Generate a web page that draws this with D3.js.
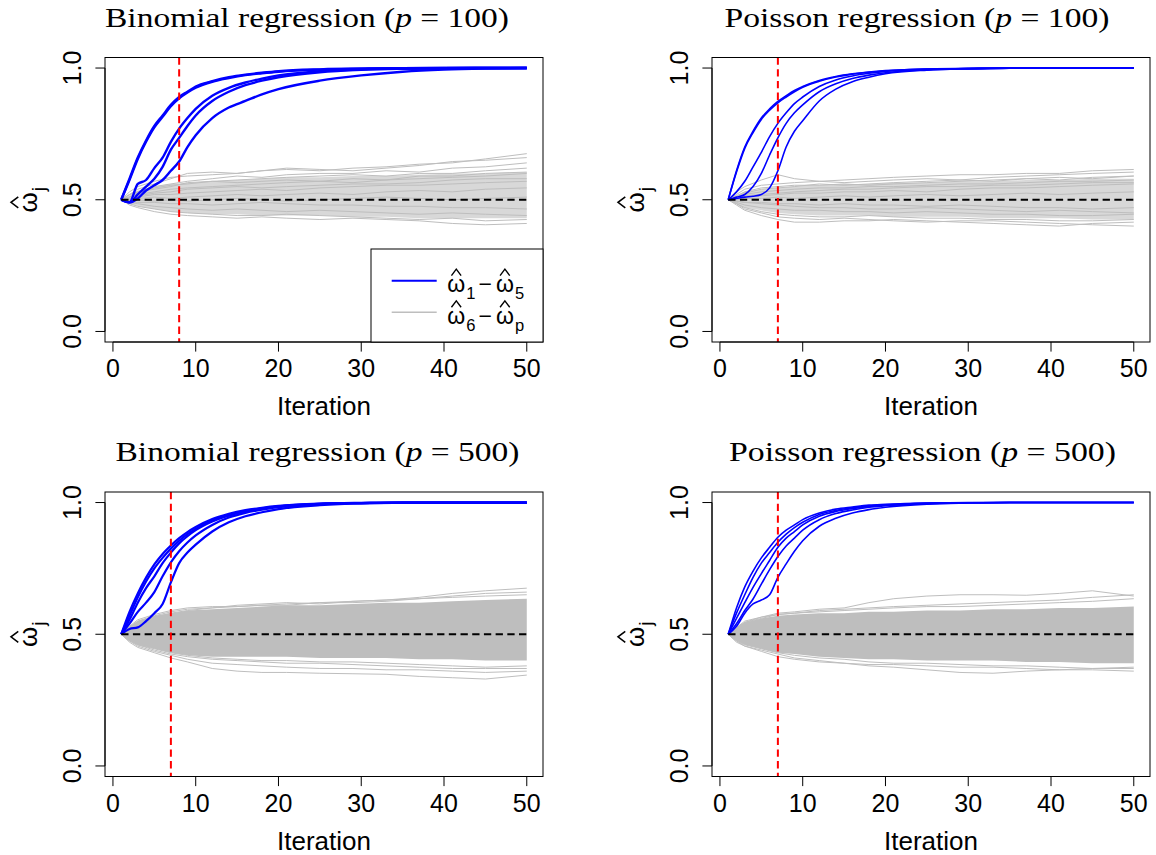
<!DOCTYPE html>
<html>
<head>
<meta charset="utf-8">
<script src="https://cdn.jsdelivr.net/npm/d3@7"></script>
<style>
  body { margin: 0; background: #fff; }
  text { font-family: "Liberation Sans", Arial, sans-serif; fill: #000; }
</style>
</head>
<body>
<script>
// ---- data ----
const titles = ["Binomial regression", "Poisson regression", "Binomial regression", "Poisson regression"];
const pValues = [100, 100, 500, 500];
const cutoffs = [8, 7, 7, 7];
const xTicks = [0, 10, 20, 30, 40, 50];
const yTicks = [0, 0.5, 1];

// iterations at which the curves were read
const blueIters = [1,2,3,4,5,6,7,8,9,10,12,14,16,18,20,25,30,35,40,45,50];
const grayIters = [1,2,3,5,7,9,12,15,18,21,25,29,33,37,41,45,50];

// Binomial, p = 100
const binom100Blue = [
  [.5,.58,.66,.725,.78,.82,.86,.89,.91,.93,.95,.965,.975,.982,.988,.995,.998,.999,1,1,1],
  [.5,.575,.655,.72,.775,.815,.855,.885,.907,.925,.948,.962,.973,.98,.986,.994,.997,.999,1,1,1],
  [.5,.49,.56,.575,.62,.66,.72,.77,.81,.845,.895,.925,.945,.96,.972,.988,.995,.998,.999,1,1],
  [.5,.49,.52,.55,.58,.625,.69,.735,.78,.82,.875,.91,.935,.952,.965,.984,.993,.997,.999,1,1],
  [.5,.49,.505,.535,.555,.575,.61,.645,.70,.745,.81,.85,.875,.90,.92,.952,.972,.986,.994,.998,1]
];
const binom100BandUpper = [.5,.52,.535,.55,.56,.565,.57,.575,.58,.585,.585,.59,.59,.595,.60,.60,.605];
const binom100BandLower = [.5,.485,.475,.465,.455,.45,.445,.445,.44,.44,.44,.435,.435,.43,.43,.43,.43];
const binom100Gray = [
  [.5,.53,.55,.57,.585,.59,.595,.60,.61,.615,.61,.62,.625,.635,.64,.655,.675],
  [.5,.52,.54,.56,.58,.60,.605,.60,.61,.62,.615,.61,.62,.63,.645,.65,.66],
  [.5,.52,.53,.55,.56,.57,.58,.59,.585,.595,.60,.60,.61,.605,.62,.625,.64],
  [.5,.51,.53,.54,.55,.565,.57,.575,.58,.585,.59,.595,.59,.60,.60,.61,.62],
  [.5,.51,.52,.53,.54,.545,.55,.555,.56,.565,.57,.565,.575,.58,.585,.59,.60],
  [.5,.505,.51,.52,.52,.525,.53,.535,.54,.535,.545,.55,.555,.555,.56,.565,.57],
  [.5,.5,.505,.51,.505,.51,.515,.52,.515,.52,.525,.52,.53,.535,.53,.54,.545],
  [.5,.495,.49,.49,.485,.485,.48,.485,.49,.485,.48,.48,.475,.475,.47,.47,.465],
  [.5,.49,.485,.475,.47,.465,.46,.465,.46,.455,.46,.455,.45,.445,.45,.445,.44],
  [.5,.485,.475,.465,.455,.45,.445,.44,.44,.445,.44,.435,.43,.425,.43,.42,.425],
  [.5,.48,.47,.455,.445,.44,.435,.43,.435,.43,.425,.43,.425,.42,.41,.405,.41],
  [.5,.51,.525,.545,.555,.56,.57,.565,.57,.575,.57,.58,.575,.59,.59,.60,.605],
  [.5,.5,.515,.525,.53,.54,.545,.55,.545,.55,.555,.56,.56,.565,.575,.58,.58],
  [.5,.495,.5,.495,.5,.495,.5,.505,.5,.495,.5,.505,.51,.505,.5,.505,.51]
];

// Poisson, p = 100
const pois100Blue = [
  [.5,.61,.70,.76,.81,.845,.873,.895,.915,.93,.953,.968,.978,.985,.99,.996,.999,1,1,1,1],
  [.5,.605,.695,.755,.805,.84,.868,.89,.91,.927,.95,.966,.977,.984,.989,.996,.998,1,1,1,1],
  [.5,.53,.57,.625,.68,.74,.79,.83,.865,.89,.93,.955,.97,.98,.987,.995,.998,1,1,1,1],
  [.5,.51,.52,.55,.60,.67,.735,.79,.83,.86,.91,.94,.96,.973,.982,.993,.997,.999,1,1,1],
  [.5,.505,.51,.513,.52,.545,.61,.70,.76,.80,.875,.92,.948,.965,.978,.992,.997,.999,1,1,1]
];
const pois100BandUpper = [.5,.515,.53,.54,.545,.55,.555,.56,.56,.565,.565,.57,.57,.575,.575,.58,.58];
const pois100BandLower = [.5,.485,.47,.46,.45,.445,.44,.44,.44,.435,.435,.435,.43,.43,.43,.425,.425];
const pois100Gray = [
  [.5,.53,.55,.575,.595,.58,.57,.575,.58,.585,.59,.595,.595,.60,.60,.61,.615],
  [.5,.52,.54,.555,.56,.565,.57,.565,.57,.575,.58,.575,.585,.59,.595,.60,.605],
  [.5,.515,.53,.545,.55,.555,.555,.56,.555,.56,.565,.57,.575,.58,.575,.585,.59],
  [.5,.51,.52,.53,.535,.54,.545,.545,.55,.55,.555,.56,.56,.565,.57,.57,.575],
  [.5,.505,.51,.515,.52,.525,.525,.53,.53,.535,.53,.54,.545,.545,.55,.555,.56],
  [.5,.5,.505,.505,.51,.505,.51,.515,.51,.515,.52,.515,.52,.525,.52,.525,.53],
  [.5,.495,.49,.49,.485,.485,.48,.485,.48,.48,.475,.48,.475,.47,.47,.465,.47],
  [.5,.49,.48,.47,.465,.46,.46,.455,.455,.45,.455,.45,.445,.445,.44,.44,.445],
  [.5,.485,.47,.455,.445,.44,.435,.435,.44,.435,.43,.43,.425,.425,.42,.42,.425],
  [.5,.48,.46,.44,.425,.415,.415,.42,.42,.425,.42,.415,.41,.405,.40,.41,.415],
  [.5,.485,.465,.45,.435,.43,.425,.43,.425,.42,.415,.42,.42,.415,.41,.405,.40],
  [.5,.51,.525,.54,.545,.55,.56,.555,.56,.565,.57,.575,.57,.58,.585,.58,.59],
  [.5,.495,.49,.485,.48,.475,.47,.47,.465,.465,.47,.465,.46,.455,.46,.455,.45],
  [.5,.505,.515,.52,.525,.53,.535,.54,.54,.545,.55,.55,.555,.555,.56,.565,.565]
];

// Binomial, p = 500
const binom500Blue = [
  [.5,.585,.655,.715,.765,.805,.837,.865,.888,.907,.937,.957,.971,.98,.987,.996,.999,1,1,1,1],
  [.5,.57,.64,.70,.75,.79,.825,.855,.88,.90,.932,.953,.968,.978,.986,.995,.998,1,1,1,1],
  [.5,.555,.62,.675,.72,.77,.81,.845,.872,.895,.928,.95,.966,.977,.985,.995,.998,1,1,1,1],
  [.5,.54,.585,.62,.66,.72,.773,.815,.848,.875,.915,.943,.961,.973,.982,.994,.998,1,1,1,1],
  [.5,.52,.526,.55,.58,.615,.697,.77,.81,.84,.89,.925,.948,.963,.975,.99,.997,.999,1,1,1]
];
const binom500BandUpper = [.5,.53,.55,.57,.58,.59,.595,.60,.605,.61,.61,.615,.62,.62,.625,.63,.635];
const binom500BandLower = [.5,.475,.46,.445,.43,.42,.415,.415,.415,.415,.41,.41,.41,.405,.405,.40,.40];
const binom500Gray = [
  [.5,.53,.555,.575,.59,.60,.605,.605,.61,.615,.62,.625,.63,.64,.655,.665,.675],
  [.5,.525,.55,.57,.585,.595,.60,.61,.615,.62,.615,.625,.63,.635,.645,.655,.66],
  [.5,.52,.545,.565,.58,.59,.60,.605,.61,.61,.62,.62,.625,.635,.64,.645,.65],
  [.5,.47,.45,.43,.41,.395,.37,.36,.355,.355,.352,.35,.348,.34,.335,.33,.345],
  [.5,.475,.455,.435,.42,.405,.39,.385,.38,.375,.37,.37,.365,.365,.36,.355,.36],
  [.5,.475,.46,.44,.425,.415,.405,.40,.395,.39,.39,.385,.38,.375,.37,.37,.37],
  [.5,.48,.46,.445,.43,.42,.41,.405,.40,.40,.395,.395,.39,.385,.38,.375,.38]
];

// Poisson, p = 500
const pois500Blue = [
  [.5,.60,.68,.74,.79,.83,.868,.895,.915,.935,.96,.975,.983,.99,.993,.998,1,1,1,1,1],
  [.5,.58,.65,.716,.77,.81,.849,.88,.905,.925,.955,.97,.98,.987,.991,.997,.999,1,1,1,1],
  [.5,.56,.62,.678,.73,.78,.83,.865,.89,.915,.948,.966,.977,.985,.99,.997,.999,1,1,1,1],
  [.5,.54,.59,.634,.69,.745,.795,.835,.865,.895,.935,.958,.972,.982,.988,.996,.999,1,1,1,1],
  [.5,.53,.58,.615,.63,.65,.716,.767,.815,.855,.91,.94,.96,.973,.982,.994,.998,1,1,1,1]
];
const pois500BandUpper = [.5,.525,.545,.56,.57,.575,.58,.58,.585,.585,.59,.59,.595,.595,.60,.60,.605];
const pois500BandLower = [.5,.475,.46,.445,.43,.425,.415,.41,.405,.405,.40,.40,.40,.395,.395,.39,.39];
const pois500Gray = [
  [.5,.525,.55,.565,.58,.585,.595,.60,.62,.635,.645,.65,.65,.648,.655,.665,.645],
  [.5,.525,.545,.565,.575,.58,.59,.595,.60,.605,.61,.615,.62,.625,.63,.64,.65],
  [.5,.52,.545,.56,.575,.58,.585,.59,.595,.60,.605,.605,.61,.615,.62,.625,.635],
  [.5,.475,.455,.44,.425,.41,.40,.39,.38,.375,.365,.355,.352,.36,.365,.37,.37],
  [.5,.47,.455,.435,.415,.405,.395,.39,.385,.385,.38,.375,.375,.37,.365,.365,.36],
  [.5,.475,.46,.445,.43,.42,.41,.405,.395,.39,.39,.385,.38,.38,.375,.37,.375]
];

const blueSets = [binom100Blue, pois100Blue, binom500Blue, pois500Blue];
const graySets = [binom100Gray, pois100Gray, binom500Gray, pois500Gray];
const bandUpper = [binom100BandUpper, pois100BandUpper, binom500BandUpper, pois500BandUpper];
const bandLower = [binom100BandLower, pois100BandLower, binom500BandLower, pois500BandLower];

// ---- layout ----
var w = 1156,
    h = 855;
var panelLeft = [105, 712, 105, 712],
    panelTop = [57.5, 57.5, 492, 492],
    panelW = 438,
    panelH = 284.5;
var titleShift = [-17, -14, -6.5, -8.5],
    titleWidth = [404, 385, 404, 387];
var blueWidth = [2.4, 1.6, 2.2, 1.6],
    bandOpacity = [0.6, 0.6, 1, 1];
var tickLen = 9.6,
    tickFont = 25;

var svg = d3.select("body").append("svg")
    .attr("width", w)
    .attr("height", h);

// omega with a hat and a subscript, returns the x where it ends
const hatOmega = (g, x, y, size, sub) => {
    const t = g.append("text")
        .attr("x", x).attr("y", y)
        .style("font-size", size + "px")
        .text("ω");
    const ow = t.node().getComputedTextLength();
    const cx = x + ow / 2,
          hw = size * 0.21;
    g.append("path")
        .attr("d", `M${cx - hw},${y - 0.72 * size}L${cx},${y - 1.0 * size}L${cx + hw},${y - 0.72 * size}`)
        .attr("fill", "none")
        .attr("stroke", "#000")
        .attr("stroke-width", size * 0.06);
    const s = g.append("text")
        .attr("x", x + ow + 1).attr("y", y + 0.3 * size)
        .style("font-size", (size * 0.72) + "px")
        .text(sub);
    return x + ow + 1 + s.node().getComputedTextLength();
};

d3.range(4).forEach((k) => {
    const left = panelLeft[k], top = panelTop[k];
    const x = d3.scaleLinear().domain([-0.96, 51.96]).range([left, left + panelW]);
    const y = d3.scaleLinear().domain([-0.04, 1.04]).range([top + panelH, top]);
    const g = svg.append("g");

    // grey band (dense bulk of the unimportant covariates)
    g.append("path")
        .datum(d3.range(grayIters.length))
        .attr("d", d3.area()
            .x((i) => x(grayIters[i]))
            .y0((i) => y(bandLower[k][i]))
            .y1((i) => y(bandUpper[k][i])))
        .attr("fill", "#bebebe")
        .attr("fill-opacity", bandOpacity[k]);

    const grayLine = d3.line()
        .x((d, i) => x(grayIters[i]))
        .y((d) => y(d));
    g.selectAll(".gray")
        .data(graySets[k])
        .enter().append("path")
        .attr("d", grayLine)
        .attr("fill", "none")
        .attr("stroke", "#bebebe")
        .attr("stroke-width", 1);

    const blueLine = d3.line()
        .x((d, i) => x(blueIters[i]))
        .y((d) => y(d))
        .curve(d3.curveMonotoneX);
    g.selectAll(".blue")
        .data(blueSets[k])
        .enter().append("path")
        .attr("d", blueLine)
        .attr("fill", "none")
        .attr("stroke", "#0000ff")
        .attr("stroke-width", blueWidth[k])
        .attr("stroke-linejoin", "round");

    // reference line at 0.5
    g.append("line")
        .attr("x1", x(1)).attr("x2", x(50))
        .attr("y1", y(0.5)).attr("y2", y(0.5))
        .attr("stroke", "#000")
        .attr("stroke-width", 2)
        .attr("stroke-dasharray", "7.3,4.4");

    // cut-off iteration
    g.append("line")
        .attr("x1", x(cutoffs[k])).attr("x2", x(cutoffs[k]))
        .attr("y1", top).attr("y2", top + panelH)
        .attr("stroke", "#ff0000")
        .attr("stroke-width", 2)
        .attr("stroke-dasharray", "7.3,4.4");

    // box
    g.append("rect")
        .attr("x", left).attr("y", top)
        .attr("width", panelW).attr("height", panelH)
        .attr("fill", "none")
        .attr("stroke", "#000")
        .attr("stroke-width", 1);

    // x axis
    g.append("line")
        .attr("x1", x(0)).attr("x2", x(50))
        .attr("y1", top + panelH).attr("y2", top + panelH)
        .attr("stroke", "#000");
    xTicks.forEach((t) => {
        g.append("line")
            .attr("x1", x(t)).attr("x2", x(t))
            .attr("y1", top + panelH).attr("y2", top + panelH + tickLen)
            .attr("stroke", "#000");
        g.append("text")
            .attr("x", x(t)).attr("y", top + panelH + 35)
            .attr("text-anchor", "middle")
            .style("font-size", tickFont + "px")
            .text(t);
    });
    g.append("text")
        .attr("x", left + panelW / 2).attr("y", top + panelH + 73)
        .attr("text-anchor", "middle")
        .style("font-size", "26px")
        .text("Iteration");

    // y axis
    g.append("line")
        .attr("x1", left).attr("x2", left)
        .attr("y1", y(0)).attr("y2", y(1))
        .attr("stroke", "#000");
    yTicks.forEach((t) => {
        g.append("line")
            .attr("x1", left - tickLen).attr("x2", left)
            .attr("y1", y(t)).attr("y2", y(t))
            .attr("stroke", "#000");
        g.append("text")
            .attr("transform", `translate(${left - 24},${y(t)}) rotate(-90)`)
            .attr("text-anchor", "middle")
            .style("font-size", tickFont + "px")
            .text(d3.format(".1f")(t));
    });

    // y label: hat(omega)[j]
    const yl = g.append("g");
    const inner = yl.append("g");
    const endX = hatOmega(inner, 0, 0, 26, "j");
    inner.attr("transform", `translate(${-endX / 2},0)`);
    yl.attr("transform", `translate(${left - 68},${top + panelH / 2}) rotate(-90)`);

    // title
    const tt = g.append("text")
        .attr("x", left + panelW / 2 + titleShift[k])
        .attr("y", top - 31)
        .attr("text-anchor", "middle")
        .attr("textLength", titleWidth[k])
        .attr("lengthAdjust", "spacingAndGlyphs")
        .style("font-family", "'Liberation Serif', 'Times New Roman', serif")
        .style("font-size", "28px");
    tt.append("tspan").text(titles[k] + " (");
    tt.append("tspan").style("font-style", "italic").text("p");
    tt.append("tspan").text(" = " + pValues[k] + ")");
});

// legend (first panel only)
const lg = svg.append("g");
const legLeft = 371, legTop = 249,
      legRight = panelLeft[0] + panelW, legBottom = panelTop[0] + panelH;
lg.append("rect")
    .attr("x", legLeft).attr("y", legTop)
    .attr("width", legRight - legLeft).attr("height", legBottom - legTop)
    .attr("fill", "#fff")
    .attr("stroke", "#000");
const legendRows = [
    { color: "#0000ff", width: 2, from: "1", to: "5" },
    { color: "#bebebe", width: 1.4, from: "6", to: "p" }
];
legendRows.forEach((row, i) => {
    const ly = 280.7 + i * 31.6;
    lg.append("line")
        .attr("x1", 391.7).attr("x2", 436.7)
        .attr("y1", ly).attr("y2", ly)
        .attr("stroke", row.color)
        .attr("stroke-width", row.width);
    let cx = hatOmega(lg, 447.3, ly + 11.5, 23, row.from);
    const m = lg.append("text")
        .attr("x", cx + 3).attr("y", ly + 11.5)
        .style("font-size", "23px")
        .text("−");
    cx = cx + 3 + m.node().getComputedTextLength() + 4;
    hatOmega(lg, cx, ly + 11.5, 23, row.to);
});
</script>
</body>
</html>
